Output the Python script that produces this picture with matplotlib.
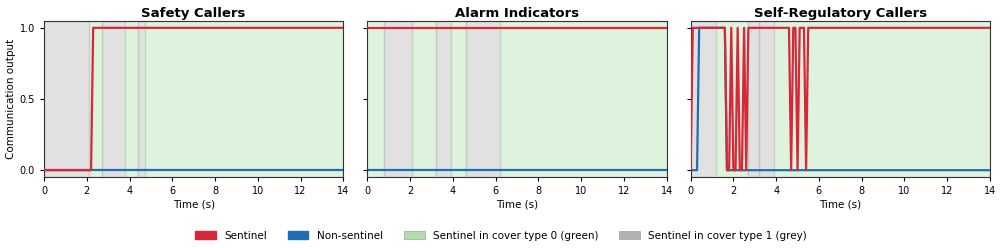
import matplotlib
matplotlib.use("Agg")
import matplotlib.pyplot as plt
from matplotlib.patches import Patch

# ---- data ----
panel_titles = ["Safety Callers", "Alarm Indicators", "Self-Regulatory Callers"]

# sentinel output (time points, values)
sentinel_t = [
    [0, 2.2, 2.3, 14],
    [0, 14],
    [0, 0.1, 1.6, 1.7, 1.8, 1.9, 2.0, 2.1, 2.2, 2.3, 2.4, 2.5, 2.6, 2.7,
     4.6, 4.7, 4.8, 4.9, 5.0, 5.1, 5.3, 5.4, 5.5, 14],
]
sentinel_y = [
    [0, 0, 1, 1],
    [1, 1],
    [0, 1, 1, 0, 0, 1, 0, 0, 1, 0, 0, 1, 0, 1,
     1, 0, 1, 1, 0, 1, 1, 0, 1, 1],
]

# non-sentinel output
nonsent_t = [
    [0, 14],
    [0, 14],
    [0, 0.3, 0.4, 1.6, 1.7, 14],
]
nonsent_y = [
    [0, 0],
    [0, 0],
    [0, 0, 1, 1, 0, 0],
]

# sentinel cover type segments: start, end, type (0 green, 1 grey)
cover_start = [
    [0, 2.1, 2.7, 3.8, 4.4, 4.7],
    [0, 0.8, 2.1, 3.2, 3.9, 4.6, 6.2],
    [0, 1.2, 2.7, 3.2, 3.9],
]
cover_end = [
    [2.1, 2.7, 3.8, 4.4, 4.7, 14],
    [0.8, 2.1, 3.2, 3.9, 4.6, 6.2, 14],
    [1.2, 2.7, 3.2, 3.9, 14],
]
cover_type = [
    [1, 0, 1, 0, 1, 0],
    [0, 1, 0, 1, 0, 1, 0],
    [1, 0, 1, 1, 0],
]

xticks = [0, 2, 4, 6, 8, 10, 12, 14]
yticks = [0.0, 0.5, 1.0]

# ---- style ----
RED = "#d62839"
BLUE = "#1f6fb5"
GREEN = "#a6dba0"
GREY = "#aaaaaa"
cover_colors = {0: GREEN, 1: GREY}

fig, axes = plt.subplots(1, 3, figsize=(10.02, 2.48), dpi=100, sharey=True)
fig.subplots_adjust(left=44 / 1002, right=990 / 1002, top=1 - 20.7 / 248,
                    bottom=1 - 177.3 / 248, wspace=0.08)

for i, ax in enumerate(axes):
    for s, e, c in zip(cover_start[i], cover_end[i], cover_type[i]):
        ax.axvspan(s, e, color=cover_colors[c], alpha=0.35, zorder=0)
    ax.plot(nonsent_t[i], nonsent_y[i], color=BLUE, lw=1.6, zorder=2)
    ax.plot(sentinel_t[i], sentinel_y[i], color=RED, lw=1.6, zorder=3)
    ax.set_xlim(0, 14)
    ax.set_ylim(-0.05, 1.05)
    ax.set_xticks(xticks)
    ax.set_yticks(yticks)
    ax.tick_params(labelsize=7, length=3, width=0.8)
    ax.set_title(panel_titles[i], fontsize=9.5, fontweight="bold", pad=3)
    ax.set_xlabel("Time (s)", fontsize=7.5, labelpad=2)
    for sp in ax.spines.values():
        sp.set_color("#333333")
axes[0].set_ylabel("Communication output", fontsize=7.5, labelpad=2.5)

handles = [
    Patch(facecolor=RED, edgecolor=RED, label="Sentinel"),
    Patch(facecolor=BLUE, edgecolor=BLUE, label="Non-sentinel"),
    Patch(facecolor=GREEN, edgecolor="#999999", lw=0.5, alpha=0.9,
          label="Sentinel in cover type 0 (green)"),
    Patch(facecolor=GREY, edgecolor="#999999", lw=0.5, alpha=0.9,
          label="Sentinel in cover type 1 (grey)"),
]
fig.legend(handles=handles, loc="center", bbox_to_anchor=(0.5, 1 - 236 / 248),
           ncol=4, frameon=False, fontsize=7.5, columnspacing=2.0,
           handlelength=2.0, handleheight=0.8)

fig.savefig("out.png", dpi=100)
